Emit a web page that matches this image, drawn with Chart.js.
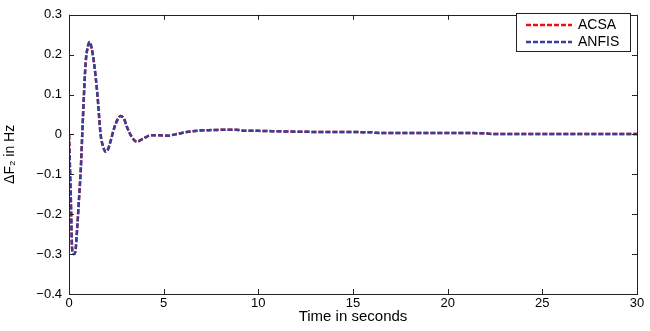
<!DOCTYPE html>
<html>
<head>
<meta charset="utf-8">
<script src="https://cdn.jsdelivr.net/npm/chart.js@4/dist/chart.umd.min.js"></script>
<style>
html,body{margin:0;padding:0;background:#fff;}
#wrap{width:650px;height:331px;position:relative;}
</style>
</head>
<body>
<div id="wrap"><canvas id="c" width="650" height="331"></canvas></div>
<script>
const seriesNames = ['ACSA', 'ANFIS'];
const times = [0, 0.09, 0.17, 0.25, 0.33, 0.44, 0.53, 0.62, 0.7, 0.79, 0.88, 0.97, 1.1, 1.2, 1.32, 1.5, 1.67, 1.8, 1.94, 2.05, 2.2, 2.4, 2.55, 2.72, 2.9, 3.05, 3.3, 3.58, 3.9, 4.35, 4.8, 5.2, 5.7, 6.2, 6.9, 7.6, 8.3, 8.8, 9.1, 10, 11, 12, 14, 16, 16.2, 20, 22, 22.2, 26, 30];
const acsaValues = [0, -0.15, -0.29, -0.30, -0.295, -0.23, -0.16, -0.09, 0.0, 0.10, 0.18, 0.215, 0.232, 0.215, 0.18, 0.10, 0.0, -0.03, -0.043, -0.038, -0.016, 0.018, 0.036, 0.046, 0.04, 0.02, -0.005, -0.018, -0.011, -0.002, -0.002, -0.003, 0.001, 0.006, 0.010, 0.011, 0.012, 0.012, 0.010, 0.009, 0.008, 0.007, 0.006, 0.0055, 0.004, 0.0035, 0.003, 0.0015, 0.001, 0.001];
const anfisValues = [0, -0.15, -0.29, -0.30, -0.295, -0.23, -0.16, -0.09, 0.0, 0.10, 0.18, 0.215, 0.232, 0.215, 0.18, 0.10, 0.0, -0.03, -0.043, -0.038, -0.016, 0.018, 0.036, 0.046, 0.04, 0.02, -0.005, -0.018, -0.011, -0.002, -0.002, -0.003, 0.001, 0.006, 0.010, 0.011, 0.012, 0.012, 0.010, 0.009, 0.008, 0.007, 0.006, 0.0055, 0.004, 0.0035, 0.003, 0.0015, 0.001, 0.001];
const xTicks = [0, 5, 10, 15, 20, 25, 30];
const yTicks = [-0.4, -0.3, -0.2, -0.1, 0, 0.1, 0.2, 0.3];
const xTitle = 'Time in seconds';
const yTitle = 'ΔF₂ in Hz';

const FONT = '"Liberation Sans", Arial, sans-serif';

function fmtY(v){
  const r = Math.round(v*10)/10;
  if (r === 0) return '0';
  const s = Math.abs(r).toFixed(1);
  return (r < 0 ? '\u2212' : '') + s;
}

const boxPlugin = {
  id: 'boxPlugin',
  afterDraw(chart){
    const ctx = chart.ctx, a = chart.chartArea;
    const xs = chart.scales.x, ys = chart.scales.y;
    ctx.save();
    ctx.strokeStyle = '#222';
    ctx.lineWidth = 1;
    ctx.setLineDash([]);
    ctx.strokeRect(Math.round(a.left)+0.5, Math.round(a.top)+0.5, Math.round(a.right-a.left), Math.round(a.bottom-a.top));
    const tl = 5;
    ctx.beginPath();
    xTicks.forEach(v => {
      const px = Math.round(xs.getPixelForValue(v))+0.5;
      ctx.moveTo(px, a.bottom); ctx.lineTo(px, a.bottom - tl);
      ctx.moveTo(px, a.top); ctx.lineTo(px, a.top + tl);
    });
    yTicks.forEach(v => {
      const py = Math.round(ys.getPixelForValue(v))+0.5;
      ctx.moveTo(a.left, py); ctx.lineTo(a.left + tl, py);
      ctx.moveTo(a.right, py); ctx.lineTo(a.right - tl, py);
    });
    ctx.stroke();
    // legend
    const lx = 516.5, ly = 13.5, lw = 114, lh = 38;
    ctx.fillStyle = '#fff';
    ctx.fillRect(lx, ly, lw, lh);
    ctx.strokeStyle = '#222';
    ctx.strokeRect(lx, ly, lw, lh);
    ctx.font = '14px ' + FONT;
    ctx.textBaseline = 'middle';
    seriesNames.forEach((name, i) => {
      const ds = chart.data.datasets.find(d => d.label === name);
      const yy = 25 + i*17;
      ctx.strokeStyle = ds.borderColor;
      ctx.lineWidth = 2.5;
      ctx.setLineDash([5,2]);
      ctx.beginPath();
      ctx.moveTo(526, yy); ctx.lineTo(572, yy);
      ctx.stroke();
      ctx.setLineDash([]);
      ctx.fillStyle = '#000';
      ctx.fillText(name, 578, yy);
    });
    ctx.restore();
  }
};

new Chart(document.getElementById('c'), {
  type: 'line',
  data: {
    datasets: [
      {
        label: seriesNames[0],
        data: times.map((t,i) => ({x:t, y:acsaValues[i]})),
        borderColor: '#ee1111',
        borderWidth: 2.5,
        borderDash: [5,2],
        pointRadius: 0,
        cubicInterpolationMode: 'monotone',
        fill: false,
        order: 2
      },
      {
        label: seriesNames[1],
        data: times.map((t,i) => ({x:t, y:anfisValues[i]})),
        borderColor: '#34409a',
        borderWidth: 2.5,
        borderDash: [5,2],
        borderDashOffset: 0,
        pointRadius: 0,
        cubicInterpolationMode: 'monotone',
        fill: false,
        order: 1
      }
    ]
  },
  options: {
    responsive: false,
    animation: false,
    layout: { padding: { left: 0, right: 13, top: 10, bottom: 5 } },
    plugins: { legend: { display: false }, tooltip: { enabled: false } },
    scales: {
      x: {
        type: 'linear', min: 0, max: 30,
        afterBuildTicks: s => { s.ticks = xTicks.map(v => ({value: v})); },
        afterFit: s => { s.height = 32; },
        grid: { display: false, drawTicks: false },
        border: { display: false },
        ticks: { padding: 2, color: '#000', font: { family: FONT, size: 13 }, maxRotation: 0, callback: v => String(v) },
        title: { display: true, text: xTitle, color: '#000', font: { family: FONT, size: 15 }, padding: { top: 0, bottom: 0 } }
      },
      y: {
        type: 'linear', min: -0.4, max: 0.3,
        afterBuildTicks: s => { s.ticks = yTicks.map(v => ({value: v})); },
        afterFit: s => { s.width = 69; },
        grid: { display: false, drawTicks: false },
        border: { display: false },
        ticks: { padding: 7, color: '#000', font: { family: FONT, size: 13 }, callback: v => fmtY(v) },
        title: { display: true, text: yTitle, color: '#000', font: { family: FONT, size: 14 }, padding: { top: 2, bottom: 4 } }
      }
    }
  },
  plugins: [boxPlugin]
});
</script>
</body>
</html>
